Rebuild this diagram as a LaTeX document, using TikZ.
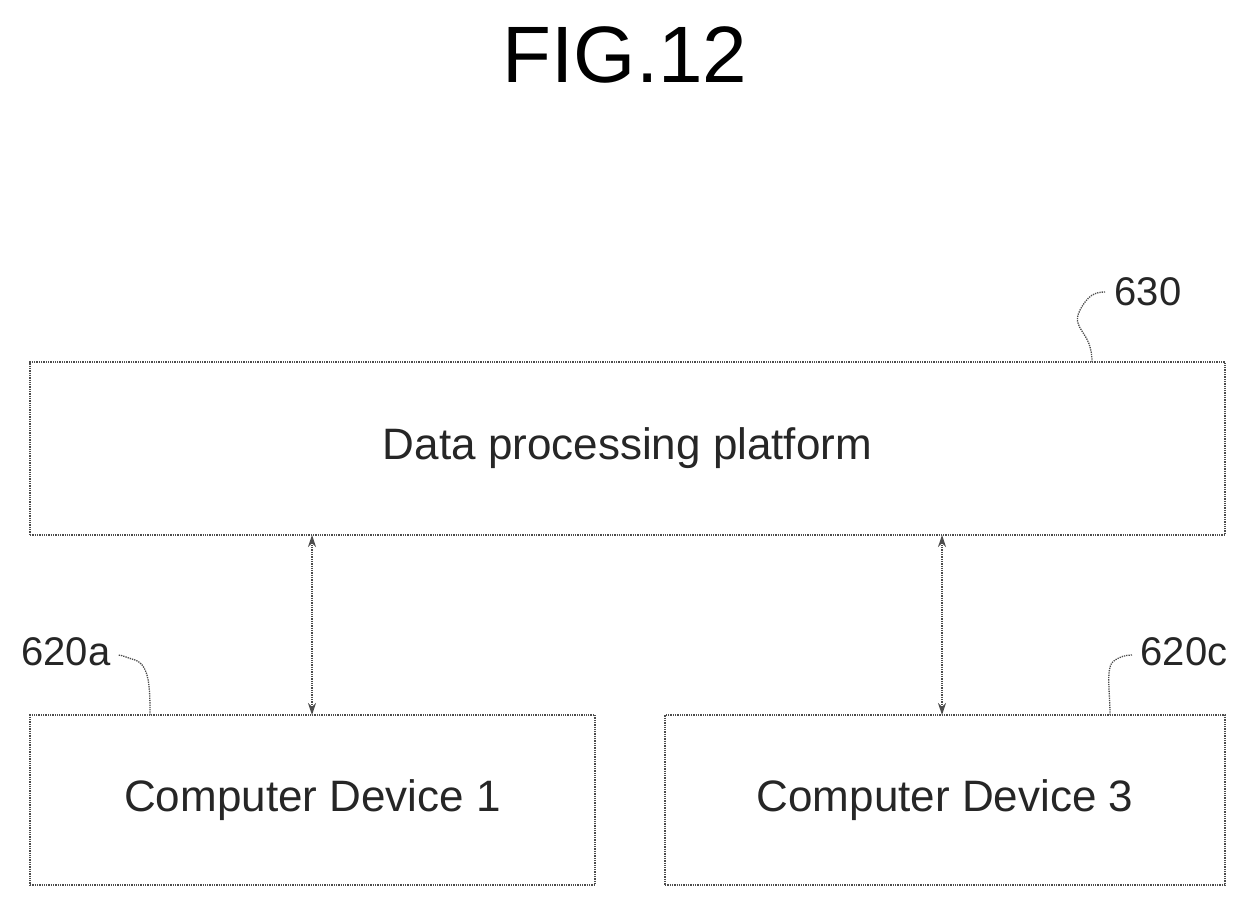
\documentclass[tikz,border=0pt]{standalone}
\usepackage{fontspec}
\setmainfont{Liberation Sans}
\usetikzlibrary{positioning,arrows.meta}
\begin{document}
\begin{tikzpicture}[
        x=1pt, y=-1pt,
        box/.style={
            draw=black!70,
            densely dotted,
            line width=1.3pt,
            font=\fontsize{44}{50}\selectfont,
            text=black!85
        },
        reflabel/.style={
            font=\fontsize{40}{46}\selectfont,
            text=black!85
        },
        lead/.style={
            draw=black!70,
            densely dotted,
            line width=1.3pt
        },
        dbl/.style={
            draw=black!70,
            densely dotted,
            line width=1.3pt,
            {Stealth[length=12pt,width=8pt]}-{Stealth[length=12pt,width=8pt]}
        }
    ]
        \useasboundingbox (0,0) rectangle (1249,907);
        % Title
        \node [font=\fontsize{80}{90}\selectfont] (title) at (625,55) {FIG.12};

        % Nodes
        \node [box, minimum width=1195pt, minimum height=173pt] (platform) at (627.5,448.5) {Data processing platform};
        \node [box, minimum width=565pt, minimum height=170pt] (dev1) at (312.5,800) {Computer Device 1};
        \node [box, minimum width=560pt, minimum height=170pt] (dev3) at (945,800) {Computer Device 3};

        % Reference labels
        \node [reflabel] (l630) at (1148,292) {630};
        \node [reflabel] (l620a) at (66,652) {620a};
        \node [reflabel] (l620c) at (1184,652) {620c};
        \coordinate (p630) at (1092,362);
        \coordinate (p620a) at (150,715);
        \coordinate (p620c) at (1110,715);

        % Leaders
        \path [lead] (p630) .. controls (1092,330) and (1070,330) .. (1080,310) .. controls (1088,295) and (1095,292) .. (1105,292);
        \path [lead] (p620a) .. controls (150,690) and (150,665) .. (135,660) .. controls (125,657) and (122,655) .. (118,655);
        \path [lead] (p620c) .. controls (1110,690) and (1105,665) .. (1115,660) .. controls (1120,657) and (1125,655) .. (1132,655);

        % Paths
        \path [dbl] (312,535) -- (312,715);
        \path [dbl] (942,535) -- (942,715);
    \end{tikzpicture}
\end{document}
